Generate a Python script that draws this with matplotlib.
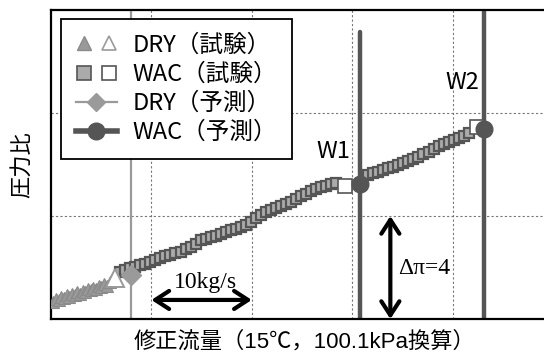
import matplotlib
matplotlib.use("Agg")
import matplotlib.pyplot as plt
from matplotlib.lines import Line2D
from matplotlib.legend_handler import HandlerTuple

plt.rcParams['font.family'] = ['Liberation Sans Narrow', 'Noto Sans CJK JP', 'DejaVu Sans']

# ---- data (corrected flow [kg/s], pressure ratio [-]) ----
dry_test_flow = [0.2, 0.5, 0.8, 1.0, 1.3, 1.6, 1.8, 2.1, 2.4, 2.6, 2.9,
                 3.2, 3.4, 3.7, 4.0, 4.2, 4.5, 4.8, 5.0, 5.3, 5.6, 5.9]
dry_test_pr = [0.66, 0.78, 0.72, 0.85, 0.80, 0.93, 0.86, 0.98, 0.92, 1.05, 0.99,
               1.10, 1.04, 1.17, 1.12, 1.22, 1.18, 1.30, 1.24, 1.34, 1.30, 1.42]
dry_test_end = (6.4, 1.60)

wac_test_flow = [6.9, 7.4, 7.9, 8.4, 8.9, 9.4, 9.9, 10.4, 10.9, 11.4, 11.9,
                 12.4, 12.9, 13.4, 13.9, 14.4, 14.9, 15.4, 15.9, 16.4, 16.9,
                 17.4, 17.9, 18.4, 18.9, 19.4, 19.9, 20.4, 20.9, 21.4, 21.9,
                 22.4, 22.9, 23.4, 23.9, 24.4, 24.9, 25.4, 25.9, 26.4, 26.9,
                 27.4, 27.9, 28.4,
                 31.6, 32.1, 32.6, 33.1, 33.6, 34.1, 34.6, 35.1, 35.6, 36.1,
                 36.6, 37.1, 37.6, 38.1, 38.6, 39.1, 39.6, 40.1, 40.6, 41.1, 41.6]
wac_test_pr = [1.83, 1.90, 1.98, 2.03, 2.08, 2.15, 2.22, 2.30, 2.36, 2.45, 2.50,
               2.58, 2.62, 2.72, 2.80, 2.92, 3.08, 3.12, 3.18, 3.24, 3.30,
               3.38, 3.44, 3.50, 3.58, 3.66, 3.76, 3.92, 4.05, 4.14, 4.22,
               4.30, 4.38, 4.46, 4.55, 4.66, 4.76, 4.86, 4.96, 5.04, 5.12,
               5.18, 5.24, 5.30,
               5.60, 5.66, 5.72, 5.80, 5.86, 5.92, 5.98, 6.06, 6.14, 6.22,
               6.30, 6.40, 6.50, 6.60, 6.70, 6.78, 6.86, 6.94, 7.04, 7.12, 7.22]
wac_test_end_flow = [29.3, 42.4]
wac_test_end_pr = [5.17, 7.46]

dry_pred_flow = 8.0
dry_pred_pr = 1.70

wac_pred_flow = [30.8, 43.1]
wac_pred_pr = [5.24, 7.38]
wac_pred_top = [11.15, 12.0]
wac_pred_names = ["W1", "W2"]
wac_name_pos = [(28.1, 6.5), (41.0, 9.2)]

legend_labels = ["DRY（試験）", "WAC（試験）", "DRY（予測）", "WAC（予測）"]
xlabel = "修正流量（15℃，100.1kPa換算）"
ylabel = "圧力比"

# ---- styling ----
c_dry = "#9a9a9a"
c_wac = "#555555"
c_sq = "#ababab"

fig = plt.figure(figsize=(5.44, 3.58), dpi=100)
W, H = 544, 358
ax = fig.add_axes([51 / W, 1 - 319 / H, (553 - 51) / W, (319 - 10) / H])
ax.set_xlim(0, 50)
ax.set_ylim(0, 12)
ax.set_xticks([10, 20, 30, 40])
ax.set_yticks([4, 8])
ax.tick_params(length=0, labelbottom=False, labelleft=False)
ax.grid(True, linestyle=(0, (2, 2)), color="#777777", linewidth=0.8)
for s in ["left", "bottom", "top"]:
    ax.spines[s].set_linewidth(1.6)
ax.spines["right"].set_visible(False)

# prediction lines
ax.plot([dry_pred_flow, dry_pred_flow], [0, 12], color=c_dry, lw=1.6, zorder=2)
for f, top in zip(wac_pred_flow, wac_pred_top):
    ax.plot([f, f], [0, top], color=c_wac, lw=3.2, solid_capstyle="round", zorder=2)

# test data
ax.plot(dry_test_flow, dry_test_pr, "^", ms=9, mfc=c_dry, mec="#8a8a8a",
        mew=0.8, ls="none", zorder=3)
ax.plot(*dry_test_end, "^", ms=13, mfc="white", mec=c_dry, mew=1.4, zorder=4)
ax.plot(wac_test_flow, wac_test_pr, "s", ms=7.2, mfc=c_sq, mec=c_wac, mew=1.6,
        ls="none", zorder=3)
ax.plot(wac_test_end_flow, wac_test_end_pr, "s", ms=10.5, mfc="white", mec=c_wac,
        mew=1.2, ls="none", zorder=4)

# predicted points
ax.plot(dry_pred_flow, dry_pred_pr, "D", ms=10, color=c_dry, zorder=5)
ax.plot(wac_pred_flow, wac_pred_pr, "o", ms=12, color=c_wac, ls="none", zorder=5)

for name, (x, y) in zip(wac_pred_names, wac_name_pos):
    ax.text(x, y, name, fontsize=17, ha="center", va="center")

# scale arrows
arrow_style = "<->,head_length=1.0,head_width=0.65"
ax.annotate("", xy=(20.0, 0.74), xytext=(10.0, 0.74),
            arrowprops=dict(arrowstyle=arrow_style, lw=3, color="black",
                            shrinkA=0, shrinkB=0))
ax.text(15.4, 1.43, "10kg/s", fontsize=17, ha="center", va="center",
        family=["Liberation Serif"])
ax.annotate("", xy=(33.8, 4.0), xytext=(33.8, 0.0),
            arrowprops=dict(arrowstyle=arrow_style, lw=3, color="black",
                            shrinkA=0, shrinkB=0))
ax.text(34.6, 1.98, "Δπ=4", fontsize=17, ha="left", va="center",
        family=["Liberation Serif", "DejaVu Serif"])

# legend
h_dry_test = (Line2D([], [], marker="^", ls="none", ms=10, mfc=c_dry, mec="#8a8a8a"),
              Line2D([], [], marker="^", ls="none", ms=10, mfc="white", mec=c_dry, mew=1.2))
h_wac_test = (Line2D([], [], marker="s", ls="none", ms=9.5, mfc=c_sq, mec=c_wac, mew=1.2),
              Line2D([], [], marker="s", ls="none", ms=9.5, mfc="white", mec=c_wac, mew=1.2))
h_dry_pred = Line2D([], [], color=c_dry, lw=1.6, marker="D", ms=9)
h_wac_pred = Line2D([], [], color=c_wac, lw=4, marker="o", ms=12)
leg = ax.legend([h_dry_test, h_wac_test, h_dry_pred, h_wac_pred], legend_labels,
                handler_map={tuple: HandlerTuple(ndivide=None, pad=0.35)},
                loc="upper left", bbox_to_anchor=(61 / W, 1 - 19 / H),
                bbox_transform=fig.transFigure, borderaxespad=0,
                fontsize=17, handlelength=1.75, handletextpad=0.65,
                labelspacing=0.26, borderpad=0.62, fancybox=False,
                framealpha=1, edgecolor="black")
leg.get_frame().set_linewidth(1.3)

fig.text(304 / W, 1 - 342 / H, xlabel, fontsize=16, ha="center", va="center",
         family=["Liberation Sans", "Noto Sans CJK JP"])
fig.text(22 / W, 1 - 165 / H, ylabel, fontsize=16, ha="center", va="center",
         rotation=90, family=["Noto Sans CJK JP"])

fig.savefig("out.png", dpi=100)
